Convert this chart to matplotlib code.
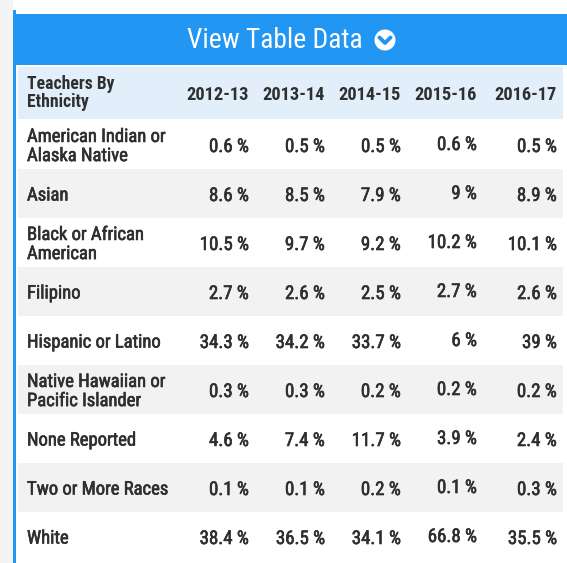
import matplotlib
matplotlib.use('Agg')
from matplotlib import pyplot as plt
from matplotlib import patheffects
from matplotlib.patches import Rectangle, Circle

plt.rcParams['font.family'] = ['Roboto Condensed', 'Roboto', 'DejaVu Sans']

title = 'View Table Data'
first_col_header = 'Teachers By\nEthnicity'
years = ['2012-13', '2013-14', '2014-15', '2015-16', '2016-17']
ethnicities = ['American Indian or\nAlaska Native', 'Asian', 'Black or African\nAmerican', 'Filipino',
               'Hispanic or Latino', 'Native Hawaiian or\nPacific Islander', 'None Reported',
               'Two or More Races', 'White']
v_2012 = [0.6, 8.6, 10.5, 2.7, 34.3, 0.3, 4.6, 0.1, 38.4]
v_2013 = [0.5, 8.5, 9.7, 2.6, 34.2, 0.3, 7.4, 0.1, 36.5]
v_2014 = [0.5, 7.9, 9.2, 2.5, 33.7, 0.2, 11.7, 0.2, 34.1]
v_2015 = [0.6, 9, 10.2, 2.7, 6, 0.2, 3.9, 0.1, 66.8]
v_2016 = [0.5, 8.9, 10.1, 2.6, 39, 0.2, 2.4, 0.3, 35.5]
values = [v_2012, v_2013, v_2014, v_2015, v_2016]

W, H = 567, 563
fig = plt.figure(figsize=(W / 100, H / 100), dpi=100)
ax = fig.add_axes([0, 0, 1, 1])
ax.set_xlim(0, W)
ax.set_ylim(H, 0)
ax.axis('off')

blue = '#2196f3'
text_col = '#2f2f2f'
# slightly heavier strokes, the source font renders a bit darker
heavy = [patheffects.withStroke(linewidth=0.45, foreground=text_col)]

# page background / left strip
ax.add_patch(Rectangle((0, 0), 13, H, color='#f4f4f4', lw=0))
ax.add_patch(Rectangle((13, 10), 2.5, H, color=blue, lw=0))

# title bar
ax.add_patch(Rectangle((15.5, 14), W - 15.5, 51, color=blue, lw=0))
ax.text(275, 40, title, color='white', fontsize=19.8, ha='center', va='center')
ax.add_patch(Circle((385, 40), 10.5, color='white', lw=0))
ax.plot([379.5, 385, 390.5], [37.5, 43, 37.5], color=blue, lw=2.8, solid_capstyle='round',
        solid_joinstyle='round')

# header row
ax.add_patch(Rectangle((18, 67), 545, 52, color='#e2effb', lw=0))
ax.text(27, 93, first_col_header, color=text_col, fontsize=12.7, fontweight='bold', va='center',
        linespacing=1.0)
col_right = [249, 325, 401, 477, 557]
for x, yr in zip(col_right, years):
    ax.text(x, 95, yr, color=text_col, fontsize=13.2, fontweight='bold', ha='right', va='center')

# body rows
row_top = 120
row_h = 49
for i, name in enumerate(ethnicities):
    y0 = row_top + i * row_h
    if i % 2 == 1:
        ax.add_patch(Rectangle((18, y0), 545, row_h, color='#f2f2f2', lw=0))
    yc = y0 + row_h / 2 + 2.5
    ax.text(27, yc - 0.5, name, color=text_col, fontsize=13.4, va='center', linespacing=1.08,
            path_effects=heavy)
    for j, col in enumerate(values):
        dy = -2 if j == 3 else 0
        ax.text(col_right[j], yc + dy, f'{col[i]:g} %', color=text_col, fontsize=13.6,
                ha='right', va='center', path_effects=heavy)

fig.savefig('out.png', dpi=100)
